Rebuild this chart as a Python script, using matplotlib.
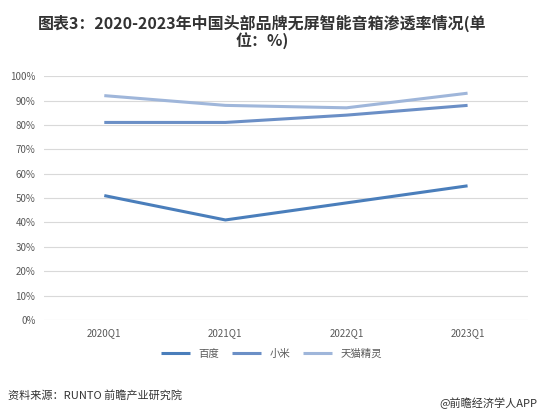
import matplotlib
matplotlib.use("Agg")
import matplotlib.pyplot as plt

plt.rcParams['font.family'] = ['Noto Sans CJK SC', 'DejaVu Sans']

# data
quarters = ["2020Q1", "2021Q1", "2022Q1", "2023Q1"]
baidu = [51, 41, 48, 55]
xiaomi = [81, 81, 84, 88]
tmall = [92, 88, 87, 93]
yticks = list(range(0, 101, 10))

fig = plt.figure(figsize=(5.4, 4.16), dpi=100)
ax = fig.add_axes([0.081, 0.231, 0.897, 0.586])

xs = range(len(quarters))
ax.plot(xs, baidu, color="#4a7ebb", lw=2.2, label="百度", solid_capstyle="butt")
ax.plot(xs, xiaomi, color="#6b8fc6", lw=2.2, label="小米", solid_capstyle="butt")
ax.plot(xs, tmall, color="#9fb6da", lw=2.2, label="天猫精灵", solid_capstyle="butt")

ax.set_xlim(-0.5, len(quarters) - 0.5)
ax.set_ylim(0, 100)
ax.set_yticks(yticks)
ax.set_yticklabels([f"{v}%" for v in yticks], fontsize=7, color="#595959")
ax.set_xticks(list(xs))
ax.set_xticklabels(quarters, fontsize=7, color="#595959")
ax.tick_params(length=0, pad=6)
ax.grid(axis="y", color="#d9d9d9", lw=0.8)
ax.set_axisbelow(True)
for s in ax.spines.values():
    s.set_visible(False)

ax.legend(loc="upper center", bbox_to_anchor=(0.47, -0.08), ncol=3, frameon=False,
          fontsize=7.5, handlelength=2.8, columnspacing=1.2, labelcolor="#595959")

fig.text(0.485, 0.965, "图表3：2020-2023年中国头部品牌无屏智能音箱渗透率情况(单\n位：%)",
         ha="center", va="top", fontsize=11.5, fontweight="bold", color="#333333",
         linespacing=1.0)

fig.text(0.015, 0.05, "资料来源：RUNTO 前瞻产业研究院", fontsize=8, color="#333333", va="center")
fig.text(0.995, 0.03, "@前瞻经济学人APP", fontsize=8, color="#333333", va="center", ha="right")

fig.savefig("out.png", dpi=100)
